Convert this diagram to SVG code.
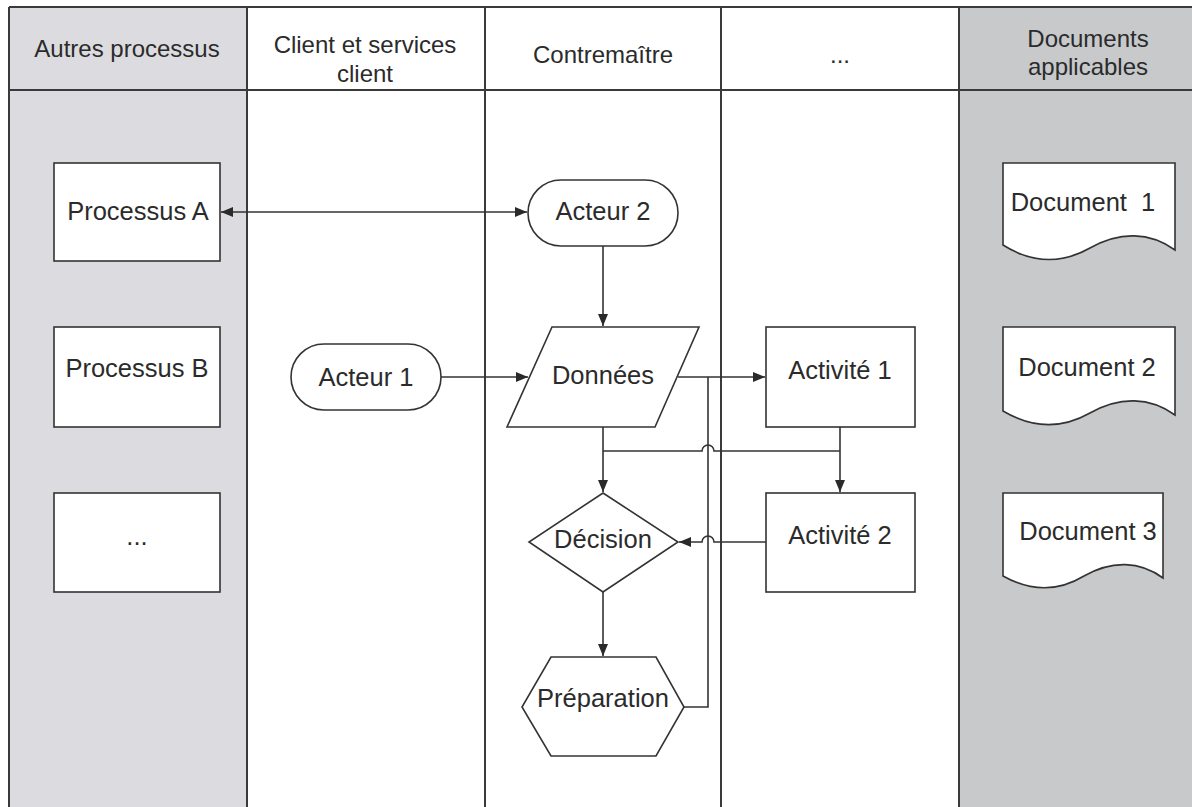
<svg xmlns="http://www.w3.org/2000/svg" width="1192" height="807" viewBox="0 0 1192 807">
  <style>
    .lane-line { stroke: #3a3a3a; stroke-width: 2; fill: none; }
    .shape { fill: #ffffff; stroke: #333333; stroke-width: 1.6; }
    .txt { font-family: "Liberation Sans", Arial, sans-serif; font-size: 25.5px; fill: #2b2b2b; text-anchor: middle; }
    .hdr { font-family: "Liberation Sans", Arial, sans-serif; font-size: 24px; fill: #2b2b2b; text-anchor: middle; }
    .conn { stroke: #333333; stroke-width: 1.6; fill: none; }
  </style>
  <defs>
    <marker id="arrow" viewBox="0 0 12 10" refX="12" refY="5" markerWidth="12" markerHeight="10" markerUnits="userSpaceOnUse" orient="auto-start-reverse">
      <path d="M0,0 L12,5 L0,10 z" fill="#2a2a2a"/>
    </marker>
  </defs>

  <!-- background -->
  <rect x="0" y="0" width="1192" height="807" fill="#ffffff"/>

  <!-- swimlanes -->
  <g id="lanes">
    <rect x="9" y="7" width="238" height="800" fill="#dcdce0"/>
    <rect x="959" y="7" width="233" height="800" fill="#c7c9cb"/>
    <line class="lane-line" x1="9" y1="7" x2="1192" y2="7"/>
    <line class="lane-line" x1="9" y1="90" x2="1192" y2="90"/>
    <line class="lane-line" x1="9" y1="7" x2="9" y2="807"/>
    <line class="lane-line" x1="247" y1="7" x2="247" y2="807"/>
    <line class="lane-line" x1="485" y1="7" x2="485" y2="807"/>
    <line class="lane-line" x1="721" y1="7" x2="721" y2="807"/>
    <line class="lane-line" x1="959" y1="7" x2="959" y2="807"/>
  </g>

  <!-- lane headers -->
  <g id="headers">
    <text class="hdr" x="127" y="57" font-size="27">Autres processus</text>
    <text class="hdr" x="365" y="53" font-size="25">Client et services</text>
    <text class="hdr" x="365" y="82" font-size="25">client</text>
    <text class="hdr" x="603" y="63" font-size="23.5">Contremaître</text>
    <text class="hdr" x="840" y="63">...</text>
    <text class="hdr" x="1088" y="47">Documents</text>
    <text class="hdr" x="1088" y="75">applicables</text>
  </g>

  <!-- connectors -->
  <g id="connectors">
    <line class="conn" x1="221" y1="212" x2="527" y2="212" marker-start="url(#arrow)" marker-end="url(#arrow)"/>
    <line class="conn" x1="603" y1="246" x2="603" y2="326" marker-end="url(#arrow)"/>
    <line class="conn" x1="441" y1="377" x2="528" y2="377" marker-end="url(#arrow)"/>
    <line class="conn" x1="678" y1="377" x2="765" y2="377" marker-end="url(#arrow)"/>
    <path class="conn" d="M684,707 H708 V377"/>
    <line class="conn" x1="603" y1="427" x2="603" y2="492" marker-end="url(#arrow)"/>
    <line class="conn" x1="840" y1="427" x2="840" y2="492" marker-end="url(#arrow)"/>
    <path class="conn" d="M603,451 H702 A6,6 0 0 1 714,451 H840"/>
    <path class="conn" d="M766,542 H714 A6,6 0 0 0 702,542 H679" marker-end="url(#arrow)"/>
    <line class="conn" x1="603" y1="592" x2="603" y2="656" marker-end="url(#arrow)"/>
  </g>

  <!-- other processes -->
  <g id="processus-a">
    <rect class="shape" x="54" y="163" width="166" height="98"/>
    <text class="txt" x="138" y="220">Processus A</text>
  </g>
  <g id="processus-b">
    <rect class="shape" x="54" y="327" width="166" height="100"/>
    <text class="txt" x="137" y="377">Processus B</text>
  </g>
  <g id="processus-autres">
    <rect class="shape" x="54" y="493" width="166" height="99"/>
    <text class="txt" x="137" y="545" font-size="18" fill="#777777">...</text>
  </g>

  <!-- actors -->
  <g id="acteur-1">
    <rect class="shape" x="291" y="344" width="150" height="66" rx="33" ry="33"/>
    <text class="txt" x="366" y="386">Acteur 1</text>
  </g>
  <g id="acteur-2">
    <rect class="shape" x="528" y="180" width="150" height="66" rx="33" ry="33"/>
    <text class="txt" x="603" y="220">Acteur 2</text>
  </g>

  <!-- flow -->
  <g id="donnees">
    <polygon class="shape" points="552,327 699,327 655,427 507,427"/>
    <text class="txt" x="603" y="384">Données</text>
  </g>
  <g id="decision">
    <polygon class="shape" points="603,493 678,542 603,592 529,542"/>
    <text class="txt" x="603" y="548">Décision</text>
  </g>
  <g id="preparation">
    <polygon class="shape" points="551,657 656,657 684,707 656,756 551,756 522,707"/>
    <text class="txt" x="603" y="707">Préparation</text>
  </g>
  <g id="activite-1">
    <rect class="shape" x="766" y="327" width="149" height="100"/>
    <text class="txt" x="840" y="379">Activité 1</text>
  </g>
  <g id="activite-2">
    <rect class="shape" x="766" y="493" width="149" height="99"/>
    <text class="txt" x="840" y="544">Activité 2</text>
  </g>

  <!-- applicable documents -->
  <g id="document-1">
    <path class="shape" d="M1003,163 H1175 V250 C1150,232 1120,231 1090,248 C1060,265 1030,262 1003,245 Z"/>
    <text class="txt" x="1083" y="211" xml:space="preserve">Document  1</text>
  </g>
  <g id="document-2">
    <path class="shape" d="M1003,327 H1175 V415 C1150,397 1120,396 1090,413 C1060,430 1030,427 1003,411 Z"/>
    <text class="txt" x="1087" y="376">Document 2</text>
  </g>
  <g id="document-3">
    <path class="shape" d="M1003,493 H1163 V578 C1140,561 1112,560 1084,576 C1056,593 1028,590 1003,576 Z"/>
    <text class="txt" x="1088" y="540">Document 3</text>
  </g>
</svg>
